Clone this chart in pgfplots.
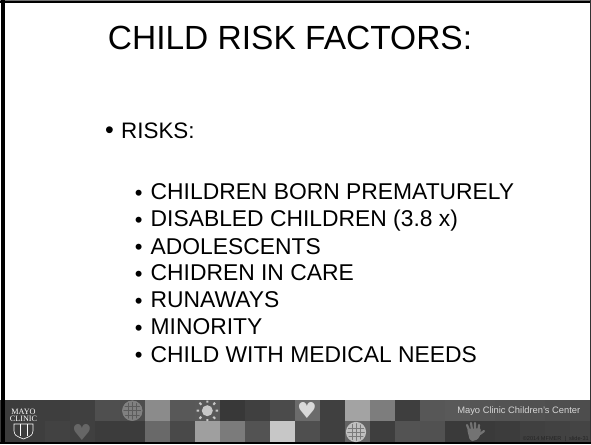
\documentclass[border=0pt]{standalone}
\usepackage{fontspec}
\setmainfont{Liberation Sans}
\newfontfamily\serifmayo{Liberation Serif}
\newfontfamily\djv{DejaVu Sans}
\usepackage{pgfplots}
\pgfplotsset{compat=1.18}
\usepackage{pgfplotstable}
\definecolor{gheart}{gray}{0.40}
\definecolor{gheartb}{gray}{0.85}
\definecolor{gsun}{gray}{0.78}
\definecolor{gglobe}{gray}{0.50}
\definecolor{gglobel}{gray}{0.36}
\definecolor{gglobeb}{gray}{0.75}
\definecolor{gglobebl}{gray}{0.48}
\definecolor{ghand}{gray}{0.45}
\definecolor{gtitle}{gray}{0.84}
\definecolor{gcopy}{gray}{0.14}
% footer tiles: x centre, y centre, grey level 0-255
\pgfplotstableread{
x y c
7.5 410.5 60
32.5 410.5 62
57.5 410.5 62
82.5 410.5 64
107.5 410.5 78
132.5 410.5 76
157.5 410.5 138
182.5 410.5 87
207.5 410.5 88
232.5 410.5 56
257.5 410.5 64
282.5 410.5 74
307.5 410.5 106
332.5 410.5 64
357.5 410.5 162
382.5 410.5 124
407.5 410.5 62
432.5 410.5 86
457.5 410.5 88
482.5 410.5 84
507.5 410.5 82
532.5 410.5 80
557.5 410.5 78
582.5 410.5 76
7.5 431.5 60
32.5 431.5 62
57.5 431.5 66
82.5 431.5 64
107.5 431.5 60
132.5 431.5 60
157.5 431.5 104
182.5 431.5 72
207.5 431.5 158
232.5 431.5 122
257.5 431.5 82
282.5 431.5 198
307.5 431.5 78
332.5 431.5 64
357.5 431.5 98
382.5 431.5 62
407.5 431.5 82
432.5 431.5 80
457.5 431.5 58
482.5 431.5 58
507.5 431.5 60
532.5 431.5 64
557.5 431.5 66
582.5 431.5 68
}\tiles
\newcommand{\riskitem}[2]{%
  \node[anchor=base, font=\fontsize{22}{26}\selectfont] at (axis cs:138.7,#1+0.8) {•};
  \node[anchor=base west, font=\fontsize{22.85}{26}\selectfont] at (axis cs:150.5,#1) {#2};
}
\begin{document}
\begin{tikzpicture}[every node/.style={inner sep=0pt}]
\begin{axis}[
    scale only axis,
    width=591pt,
    height=444pt,
    xmin=0, xmax=591,
    ymin=0, ymax=444,
    y dir=reverse,
    axis lines=none,
    clip=true,
    colormap={grey}{gray(0cm)=(0); gray(255cm)=(1)},
    point meta min=0,
    point meta max=255,
]
\addplot[matrix plot*, mesh/cols=24, point meta=explicit] table[x=x, y=y, meta=c] {\tiles};

% frame
\draw[black!55, line width=1pt] (axis cs:0,0.5) -- (axis cs:591,0.5);
\draw[black, line width=2.4pt] (axis cs:0,2.2) -- (axis cs:591,2.2);
\draw[black, line width=3.4pt] (axis cs:3,0) -- (axis cs:3,444);
\draw[black!80, line width=1pt] (axis cs:590.5,0) -- (axis cs:590.5,444);
\draw[black, line width=2pt] (axis cs:0,443) -- (axis cs:591,443);

% slide text
\node[anchor=base, font=\fontsize{33.5}{38}\selectfont] at (axis cs:290,49) {CHILD RISK FACTORS:};
\node[anchor=base, font=\fontsize{25}{30}\selectfont] at (axis cs:109.5,138.4) {•};
\node[anchor=base west, font=\fontsize{22.4}{26}\selectfont] at (axis cs:121,138) {RISKS:};
\riskitem{199.4}{CHILDREN BORN PREMATURELY}
\riskitem{226.7}{DISABLED CHILDREN (3.8 x)}
\riskitem{254}{ADOLESCENTS}
\riskitem{280.8}{CHIDREN IN CARE}
\riskitem{307.5}{RUNAWAYS}
\riskitem{334.8}{MINORITY}
\riskitem{362}{CHILD WITH MEDICAL NEEDS}

% footer icons
\node[text=gheart, font=\djv\fontsize{22}{22}\selectfont] at (axis cs:82,432) {♥};
\node[text=gheartb, font=\djv\fontsize{22}{22}\selectfont] at (axis cs:307,410) {♥};
% sun
\fill[gsun] (axis cs:207.3,410.7) circle[radius=5.5pt];
\draw[gsun, line width=2pt] (axis cs:199,410.7) -- (axis cs:196.5,410.7) (axis cs:215.5,410.7) -- (axis cs:218,410.7)
  (axis cs:207.3,402.5) -- (axis cs:207.3,400.5) (axis cs:207.3,419) -- (axis cs:207.3,421)
  (axis cs:201.3,404.7) -- (axis cs:199.5,402.7) (axis cs:213.3,404.7) -- (axis cs:215.1,402.7)
  (axis cs:201.3,416.7) -- (axis cs:199.5,418.7) (axis cs:213.3,416.7) -- (axis cs:215.1,418.7);
% hand
\fill[ghand, rounded corners=2pt] (axis cs:467,429) -- (axis cs:481,428) -- (axis cs:480,437) -- (axis cs:475,441) -- (axis cs:470,441) -- cycle;
\draw[ghand, line width=2.2pt, line cap=round] (axis cs:469,430) -- (axis cs:467,425) (axis cs:472,430) -- (axis cs:471,423) (axis cs:475,430) -- (axis cs:475,423) (axis cs:478.5,430) -- (axis cs:479,425) (axis cs:480,434) -- (axis cs:484,431);
% globes
\fill[gglobe] (axis cs:132.3,410.7) circle[radius=10pt];
\draw[gglobel, line width=.6pt] (axis cs:123,406.5) -- (axis cs:141.5,406.5) (axis cs:122.5,410.7) -- (axis cs:142,410.7) (axis cs:123,415) -- (axis cs:141.5,415) (axis cs:128,402) -- (axis cs:128,419.5) (axis cs:132.3,401) -- (axis cs:132.3,420.5) (axis cs:136.6,402) -- (axis cs:136.6,419.5);
\draw[gglobe, line width=1.2pt] (axis cs:132.3,410.7) circle[radius=9.5pt];
\fill[gglobeb] (axis cs:356,432) circle[radius=9.5pt];
\draw[gglobebl, line width=.6pt] (axis cs:347,428) -- (axis cs:365,428) (axis cs:347,432) -- (axis cs:365,432) (axis cs:347,436) -- (axis cs:365,436) (axis cs:352,423) -- (axis cs:352,441) (axis cs:356,423) -- (axis cs:356,441) (axis cs:360,423) -- (axis cs:360,441);
\draw[gglobeb, line width=1.2pt] (axis cs:356,432) circle[radius=9.5pt];

% logo
\node[anchor=base, text=white, font=\serifmayo\fontsize{8.2}{8}\selectfont] at (axis cs:23.5,414.7) {MAYO};
\node[anchor=base, text=white, font=\serifmayo\fontsize{8.2}{8}\selectfont] at (axis cs:23.5,421.5) {CLINIC};
\draw[white, line width=.6pt] (axis cs:14,424) -- (axis cs:33,424) -- (axis cs:33,431) .. controls (axis cs:32,435.5) .. (axis cs:23.5,439) .. controls (axis cs:15,435.5) .. (axis cs:14,431) -- cycle;
\draw[white, line width=.6pt] (axis cs:20,424) -- (axis cs:20,436) (axis cs:27,424) -- (axis cs:27,436);

% footer text
\node[anchor=base east, text=gtitle, font=\fontsize{9.35}{10}\selectfont] at (axis cs:580.5,413.5) {Mayo Clinic Children's Center};
\node[anchor=base east, text=gcopy, font=\fontsize{5.6}{6}\selectfont] at (axis cs:589,440.8) {©2014 MFMER \ | \ slide-31};
\end{axis}
\end{tikzpicture}
\end{document}
